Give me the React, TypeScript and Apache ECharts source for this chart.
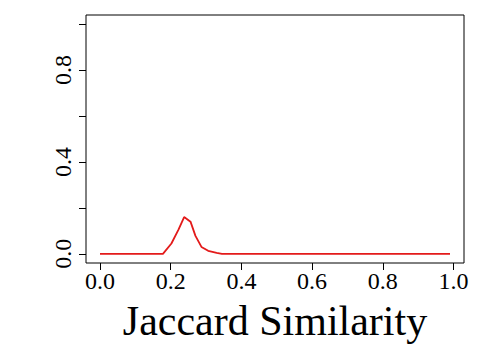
import React, { useEffect, useRef } from "react";
import * as echarts from "echarts";

const xValues = [0, 0.178, 0.202, 0.222, 0.238, 0.256, 0.27, 0.287, 0.306, 0.33, 0.345, 0.99];
const yValues = [0, 0, 0.045, 0.105, 0.16, 0.14, 0.078, 0.03, 0.013, 0.004, 0, 0];
const xTicks = [0, 0.2, 0.4, 0.6, 0.8, 1.0];
const yTicks = [0, 0.2, 0.4, 0.6, 0.8, 1.0];
const yLabels = [0, 0.4, 0.8];
const xTitle = "Jaccard Similarity";

const FONT = "'Liberation Serif', 'DejaVu Serif', serif";

export default function App() {
  const ref = useRef<HTMLDivElement>(null);
  useEffect(() => {
    if (!ref.current) return;
    const chart = echarts.init(ref.current, undefined, { renderer: "svg" });
    chart.setOption({
      animation: false,
      backgroundColor: "#ffffff",
      grid: {
        left: 86,
        right: 16,
        top: 15,
        bottom: 87,
        show: true,
        borderColor: "#000",
        borderWidth: 1,
        backgroundColor: "transparent",
      },
      xAxis: {
        type: "value",
        min: -0.0396,
        max: 1.0296,
        axisLine: { show: false, onZero: false },
        splitLine: { show: false },
        axisTick: {
          show: true,
          inside: false,
          customValues: xTicks,
          length: 7,
          lineStyle: { color: "#000", width: 1 },
        },
        axisLabel: {
          customValues: xTicks,
          formatter: (v: number) => v.toFixed(1),
          fontFamily: FONT,
          fontSize: 24,
          color: "#000",
          margin: 6,
        },
      },
      yAxis: {
        type: "value",
        min: -0.04,
        max: 1.04,
        axisLine: { show: false, onZero: false },
        splitLine: { show: false },
        axisTick: {
          show: true,
          inside: false,
          customValues: yTicks,
          length: 7,
          lineStyle: { color: "#000", width: 1 },
        },
        axisLabel: {
          customValues: yLabels,
          formatter: (v: number) => v.toFixed(1),
          fontFamily: FONT,
          fontSize: 24,
          color: "#000",
          rotate: 90,
          margin: 11,
        },
      },
      graphic: [
        {
          type: "text",
          x: 275,
          y: 321,
          style: {
            text: xTitle,
            fontFamily: FONT,
            fontSize: 42,
            fill: "#000",
            textAlign: "center",
            textVerticalAlign: "middle",
          },
        },
      ],
      series: [
        {
          type: "line",
          data: xValues.map((x, i) => [x, yValues[i]]),
          showSymbol: false,
          lineStyle: { color: "#e31a1a", width: 1.8 },
          clip: false,
        },
      ],
    });
    return () => chart.dispose();
  }, []);
  return (
    <div
      ref={ref}
      style={{ position: "absolute", left: 0, top: 0, width: 480, height: 350 }}
    />
  );
}
